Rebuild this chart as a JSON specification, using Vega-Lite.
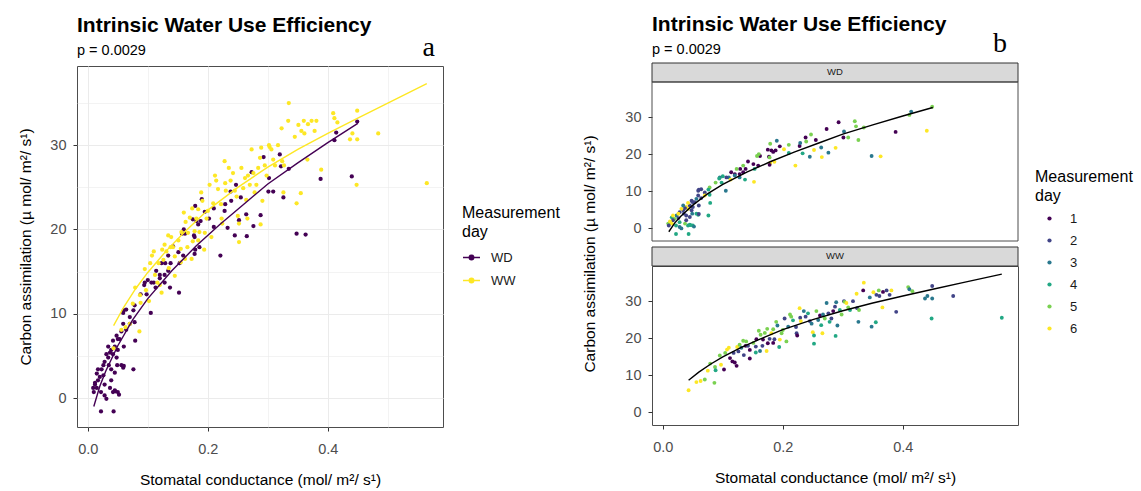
{
"$schema": "https://vega.github.io/schema/vega-lite/v6.json",
"background": "white",
"padding": {"left": 18, "top": 14, "right": 5, "bottom": 0},
"config": {
  "font": "Liberation Sans",
  "view": {"stroke": "#4d4d4d", "strokeWidth": 1},
  "axis": {"gridColor": "#ebebeb", "labelColor": "#4d4d4d", "labelFontSize": 14.5, "titleFontSize": 15.5, "titleFontWeight": "normal", "titleColor": "#000000", "tickColor": "#333333", "tickSize": 4, "domain": false},
  "axisX": {"labelPadding": 11},
  "axisY": {"labelPadding": 7},
  "title": {"fontSize": 21, "fontWeight": "bold", "anchor": "start", "frame": "group", "color": "#000000", "subtitleFontSize": 14.5, "subtitleColor": "#000000", "subtitlePadding": 8},
  "legend": {"titleFontSize": 16, "titleFontWeight": "normal", "titleColor": "#000000", "labelFontSize": 13, "labelColor": "#1a1a1a", "titleLineHeight": 19, "titlePadding": 8}
},
"datasets": {
  "pts": [
{"t":"WD","d":5,"g":0.449,"a":32.8},{"t":"WD","d":3,"g":0.414,"a":31.5},{"t":"WD","d":5,"g":0.411,"a":30.6},{"t":"WD","d":1,"g":0.388,"a":26.0},{"t":"WD","d":6,"g":0.44,"a":26.3},{"t":"WD","d":3,"g":0.348,"a":19.5},{"t":"WD","d":6,"g":0.363,"a":19.4},{"t":"WD","d":1,"g":0.293,"a":28.6},{"t":"WD","d":5,"g":0.32,"a":28.9},{"t":"WD","d":5,"g":0.322,"a":27.5},{"t":"WD","d":5,"g":0.335,"a":27.2},{"t":"WD","d":1,"g":0.273,"a":26.8},{"t":"WD","d":3,"g":0.302,"a":26.1},{"t":"WD","d":1,"g":0.301,"a":24.5},{"t":"WD","d":5,"g":0.309,"a":24.5},{"t":"WD","d":5,"g":0.326,"a":23.8},{"t":"WD","d":1,"g":0.255,"a":23.8},{"t":"WD","d":1,"g":0.238,"a":24.5},{"t":"WD","d":5,"g":0.247,"a":25.3},{"t":"WD","d":5,"g":0.239,"a":23.4},{"t":"WD","d":3,"g":0.264,"a":21.8},{"t":"WD","d":6,"g":0.288,"a":21.7},{"t":"WD","d":4,"g":0.233,"a":20.2},{"t":"WD","d":3,"g":0.245,"a":19.3},{"t":"WD","d":6,"g":0.252,"a":21.1},{"t":"WD","d":6,"g":0.265,"a":19.2},{"t":"WD","d":3,"g":0.276,"a":20.4},{"t":"WD","d":6,"g":0.221,"a":16.9},{"t":"WD","d":1,"g":0.228,"a":22.2},{"t":"WD","d":3,"g":0.229,"a":23.0},{"t":"WD","d":4,"g":0.21,"a":20.3},{"t":"WD","d":5,"g":0.21,"a":22.5},{"t":"WD","d":6,"g":0.202,"a":21.3},{"t":"WD","d":3,"g":0.19,"a":23.6},{"t":"WD","d":5,"g":0.179,"a":22.8},{"t":"WD","d":1,"g":0.195,"a":22.1},{"t":"WD","d":1,"g":0.188,"a":21.0},{"t":"WD","d":1,"g":0.184,"a":20.6},{"t":"WD","d":1,"g":0.181,"a":21.0},{"t":"WD","d":1,"g":0.175,"a":21.2},{"t":"WD","d":1,"g":0.162,"a":19.5},{"t":"WD","d":1,"g":0.177,"a":19.3},{"t":"WD","d":5,"g":0.178,"a":19.1},{"t":"WD","d":5,"g":0.157,"a":19.5},{"t":"WD","d":5,"g":0.16,"a":20.0},{"t":"WD","d":6,"g":0.179,"a":17.6},{"t":"WD","d":6,"g":0.186,"a":17.9},{"t":"WD","d":1,"g":0.178,"a":17.1},{"t":"WD","d":1,"g":0.142,"a":18.0},{"t":"WD","d":1,"g":0.151,"a":17.3},{"t":"WD","d":1,"g":0.159,"a":16.9},{"t":"WD","d":4,"g":0.153,"a":16.0},{"t":"WD","d":5,"g":0.134,"a":16.9},{"t":"WD","d":1,"g":0.129,"a":16.0},{"t":"WD","d":5,"g":0.123,"a":16.0},{"t":"WD","d":1,"g":0.114,"a":15.1},{"t":"WD","d":1,"g":0.12,"a":14.6},{"t":"WD","d":1,"g":0.128,"a":14.6},{"t":"WD","d":1,"g":0.134,"a":15.1},{"t":"WD","d":1,"g":0.138,"a":16.0},{"t":"WD","d":6,"g":0.152,"a":12.5},{"t":"WD","d":4,"g":0.137,"a":13.1},{"t":"WD","d":3,"g":0.128,"a":13.7},{"t":"WD","d":3,"g":0.12,"a":14.2},{"t":"WD","d":3,"g":0.11,"a":13.7},{"t":"WD","d":2,"g":0.106,"a":13.7},{"t":"WD","d":4,"g":0.1,"a":14.0},{"t":"WD","d":3,"g":0.095,"a":13.7},{"t":"WD","d":4,"g":0.094,"a":13.4},{"t":"WD","d":3,"g":0.105,"a":10.1},{"t":"WD","d":5,"g":0.088,"a":12.3},{"t":"WD","d":4,"g":0.098,"a":12.3},{"t":"WD","d":6,"g":0.113,"a":13.1},{"t":"WD","d":5,"g":0.078,"a":11.0},{"t":"WD","d":4,"g":0.076,"a":10.4},{"t":"WD","d":2,"g":0.07,"a":9.6},{"t":"WD","d":2,"g":0.064,"a":10.5},{"t":"WD","d":2,"g":0.06,"a":10.4},{"t":"WD","d":4,"g":0.078,"a":9.0},{"t":"WD","d":4,"g":0.079,"a":6.8},{"t":"WD","d":4,"g":0.076,"a":3.4},{"t":"WD","d":6,"g":0.07,"a":8.8},{"t":"WD","d":2,"g":0.064,"a":8.1},{"t":"WD","d":2,"g":0.059,"a":8.8},{"t":"WD","d":3,"g":0.056,"a":7.9},{"t":"WD","d":2,"g":0.053,"a":7.0},{"t":"WD","d":2,"g":0.06,"a":6.1},{"t":"WD","d":2,"g":0.05,"a":5.7},{"t":"WD","d":2,"g":0.045,"a":6.1},{"t":"WD","d":2,"g":0.048,"a":4.8},{"t":"WD","d":4,"g":0.056,"a":3.9},{"t":"WD","d":4,"g":0.059,"a":3.6},{"t":"WD","d":3,"g":0.049,"a":3.9},{"t":"WD","d":6,"g":0.042,"a":5.2},{"t":"WD","d":6,"g":0.039,"a":5.7},{"t":"WD","d":2,"g":0.037,"a":5.4},{"t":"WD","d":2,"g":0.034,"a":4.8},{"t":"WD","d":6,"g":0.031,"a":5.2},{"t":"WD","d":2,"g":0.028,"a":4.3},{"t":"WD","d":2,"g":0.035,"a":3.9},{"t":"WD","d":2,"g":0.039,"a":3.4},{"t":"WD","d":3,"g":0.023,"a":3.4},{"t":"WD","d":2,"g":0.026,"a":2.7},{"t":"WD","d":5,"g":0.02,"a":2.5},{"t":"WD","d":4,"g":0.015,"a":2.9},{"t":"WD","d":2,"g":0.017,"a":2.1},{"t":"WD","d":5,"g":0.012,"a":1.6},{"t":"WD","d":5,"g":0.009,"a":1.2},{"t":"WD","d":6,"g":0.015,"a":1.2},{"t":"WD","d":2,"g":0.01,"a":0.7},{"t":"WD","d":4,"g":0.028,"a":1.6},{"t":"WD","d":4,"g":0.022,"a":0.7},{"t":"WD","d":3,"g":0.028,"a":0.3},{"t":"WD","d":4,"g":0.042,"a":0.7},{"t":"WD","d":4,"g":0.045,"a":0.9},{"t":"WD","d":4,"g":0.05,"a":0.7},{"t":"WD","d":4,"g":0.022,"a":-1.6},{"t":"WD","d":4,"g":0.043,"a":-1.6},{"t":"WD","d":3,"g":0.031,"a":-0.1},{"t":"WD","d":5,"g":0.037,"a":1.2},{"t":"WD","d":2,"g":0.039,"a":2.1},{"t":"WD","d":2,"g":0.045,"a":3.0},{"t":"WD","d":6,"g":0.026,"a":3.9},{"t":"WD","d":6,"g":0.017,"a":3.4},{"t":"WD","d":6,"g":0.012,"a":1.8},{"t":"WD","d":2,"g":0.05,"a":7.0},{"t":"WD","d":6,"g":0.042,"a":6.8},{"t":"WD","d":2,"g":0.048,"a":7.4},{"t":"WD","d":3,"g":0.034,"a":6.1},{"t":"WD","d":2,"g":0.059,"a":10.1},{"t":"WD","d":2,"g":0.06,"a":3.8},{"t":"WD","d":4,"g":0.046,"a":0.8},{"t":"WD","d":3,"g":0.052,"a":0.4},
{"t":"WW","d":6,"g":0.043,"a":5.9},{"t":"WW","d":6,"g":0.056,"a":8.1},{"t":"WW","d":6,"g":0.063,"a":8.4},{"t":"WW","d":5,"g":0.07,"a":8.8},{"t":"WW","d":5,"g":0.086,"a":7.9},{"t":"WW","d":6,"g":0.075,"a":11.2},{"t":"WW","d":5,"g":0.079,"a":13.1},{"t":"WW","d":5,"g":0.087,"a":12.2},{"t":"WW","d":4,"g":0.088,"a":11.3},{"t":"WW","d":6,"g":0.097,"a":12.8},{"t":"WW","d":5,"g":0.095,"a":15.3},{"t":"WW","d":1,"g":0.102,"a":11.5},{"t":"WW","d":6,"g":0.107,"a":16.9},{"t":"WW","d":6,"g":0.11,"a":17.4},{"t":"WW","d":5,"g":0.104,"a":16.0},{"t":"WW","d":1,"g":0.112,"a":14.6},{"t":"WW","d":1,"g":0.116,"a":13.7},{"t":"WW","d":1,"g":0.12,"a":13.4},{"t":"WW","d":1,"g":0.123,"a":12.5},{"t":"WW","d":2,"g":0.118,"a":16.0},{"t":"WW","d":6,"g":0.124,"a":17.6},{"t":"WW","d":5,"g":0.128,"a":18.2},{"t":"WW","d":3,"g":0.131,"a":17.4},{"t":"WW","d":2,"g":0.126,"a":16.4},{"t":"WW","d":5,"g":0.134,"a":19.3},{"t":"WW","d":5,"g":0.139,"a":19.1},{"t":"WW","d":1,"g":0.138,"a":17.9},{"t":"WW","d":2,"g":0.142,"a":17.9},{"t":"WW","d":2,"g":0.135,"a":15.4},{"t":"WW","d":1,"g":0.145,"a":14.5},{"t":"WW","d":1,"g":0.145,"a":16.8},{"t":"WW","d":5,"g":0.151,"a":18.7},{"t":"WW","d":2,"g":0.155,"a":17.7},{"t":"WW","d":1,"g":0.156,"a":19.7},{"t":"WW","d":5,"g":0.16,"a":22.0},{"t":"WW","d":5,"g":0.163,"a":20.9},{"t":"WW","d":2,"g":0.166,"a":17.9},{"t":"WW","d":1,"g":0.167,"a":19.6},{"t":"WW","d":4,"g":0.155,"a":16.1},{"t":"WW","d":3,"g":0.162,"a":16.5},{"t":"WW","d":5,"g":0.17,"a":21.4},{"t":"WW","d":5,"g":0.174,"a":22.5},{"t":"WW","d":6,"g":0.173,"a":16.5},{"t":"WW","d":1,"g":0.175,"a":18.6},{"t":"WW","d":2,"g":0.178,"a":19.8},{"t":"WW","d":6,"g":0.181,"a":21.3},{"t":"WW","d":5,"g":0.184,"a":22.4},{"t":"WW","d":1,"g":0.184,"a":18.7},{"t":"WW","d":2,"g":0.186,"a":19.7},{"t":"WW","d":5,"g":0.189,"a":24.4},{"t":"WW","d":3,"g":0.191,"a":23.4},{"t":"WW","d":4,"g":0.194,"a":17.6},{"t":"WW","d":6,"g":0.195,"a":19.6},{"t":"WW","d":5,"g":0.198,"a":21.3},{"t":"WW","d":5,"g":0.2,"a":22.2},{"t":"WW","d":2,"g":0.203,"a":25.3},{"t":"WW","d":5,"g":0.206,"a":19.1},{"t":"WW","d":3,"g":0.209,"a":23.1},{"t":"WW","d":5,"g":0.212,"a":26.4},{"t":"WW","d":5,"g":0.214,"a":25.8},{"t":"WW","d":4,"g":0.217,"a":24.8},{"t":"WW","d":2,"g":0.222,"a":23.0},{"t":"WW","d":2,"g":0.223,"a":21.3},{"t":"WW","d":1,"g":0.224,"a":20.7},{"t":"WW","d":6,"g":0.228,"a":28.1},{"t":"WW","d":2,"g":0.229,"a":25.5},{"t":"WW","d":6,"g":0.23,"a":24.6},{"t":"WW","d":3,"g":0.235,"a":27.3},{"t":"WW","d":2,"g":0.238,"a":25.8},{"t":"WW","d":4,"g":0.242,"a":26.7},{"t":"WW","d":2,"g":0.245,"a":24.6},{"t":"WW","d":3,"g":0.248,"a":23.9},{"t":"WW","d":6,"g":0.25,"a":21.6},{"t":"WW","d":4,"g":0.252,"a":20.7},{"t":"WW","d":5,"g":0.256,"a":27.3},{"t":"WW","d":3,"g":0.259,"a":24.9},{"t":"WW","d":1,"g":0.262,"a":26.1},{"t":"WW","d":4,"g":0.264,"a":23.5},{"t":"WW","d":6,"g":0.266,"a":21.3},{"t":"WW","d":3,"g":0.267,"a":26.4},{"t":"WW","d":5,"g":0.27,"a":25.3},{"t":"WW","d":3,"g":0.273,"a":29.5},{"t":"WW","d":2,"g":0.276,"a":26.7},{"t":"WW","d":4,"g":0.278,"a":24.4},{"t":"WW","d":2,"g":0.281,"a":25.3},{"t":"WW","d":1,"g":0.284,"a":27.3},{"t":"WW","d":2,"g":0.287,"a":28.5},{"t":"WW","d":3,"g":0.289,"a":29.7},{"t":"WW","d":3,"g":0.291,"a":23.4},{"t":"WW","d":4,"g":0.288,"a":20.6},{"t":"WW","d":4,"g":0.252,"a":18.5},{"t":"WW","d":4,"g":0.295,"a":27.6},{"t":"WW","d":5,"g":0.298,"a":26.4},{"t":"WW","d":2,"g":0.302,"a":30.0},{"t":"WW","d":5,"g":0.303,"a":29.8},{"t":"WW","d":6,"g":0.306,"a":29.5},{"t":"WW","d":5,"g":0.309,"a":28.3},{"t":"WW","d":4,"g":0.312,"a":27.6},{"t":"WW","d":2,"g":0.317,"a":30.0},{"t":"WW","d":6,"g":0.323,"a":32.0},{"t":"WW","d":2,"g":0.324,"a":28.1},{"t":"WW","d":3,"g":0.326,"a":24.4},{"t":"WW","d":5,"g":0.327,"a":27.6},{"t":"WW","d":1,"g":0.334,"a":32.9},{"t":"WW","d":6,"g":0.335,"a":35.0},{"t":"WW","d":3,"g":0.345,"a":31.0},{"t":"WW","d":3,"g":0.348,"a":23.1},{"t":"WW","d":6,"g":0.351,"a":32.4},{"t":"WW","d":4,"g":0.355,"a":24.3},{"t":"WW","d":2,"g":0.356,"a":31.7},{"t":"WW","d":5,"g":0.36,"a":32.9},{"t":"WW","d":2,"g":0.361,"a":31.4},{"t":"WW","d":6,"g":0.366,"a":28.3},{"t":"WW","d":1,"g":0.367,"a":32.5},{"t":"WW","d":2,"g":0.373,"a":32.9},{"t":"WW","d":2,"g":0.378,"a":31.7},{"t":"WW","d":6,"g":0.381,"a":32.9},{"t":"WW","d":2,"g":0.389,"a":27.1},{"t":"WW","d":5,"g":0.409,"a":33.8},{"t":"WW","d":3,"g":0.411,"a":33.2},{"t":"WW","d":5,"g":0.416,"a":32.7},{"t":"WW","d":3,"g":0.437,"a":30.7},{"t":"WW","d":3,"g":0.441,"a":31.4},{"t":"WW","d":2,"g":0.449,"a":34.1},{"t":"WW","d":3,"g":0.449,"a":30.7},{"t":"WW","d":4,"g":0.448,"a":25.3},{"t":"WW","d":2,"g":0.484,"a":31.4},{"t":"WW","d":4,"g":0.565,"a":25.5}
  ],
  "fit": [
{"t":"WD","g":0.01,"a":-1.0},{"t":"WD","g":0.02,"a":1.4},{"t":"WD","g":0.03,"a":3.2},{"t":"WD","g":0.05,"a":6.2},{"t":"WD","g":0.075,"a":9.3},{"t":"WD","g":0.1,"a":11.8},{"t":"WD","g":0.14,"a":15.1},{"t":"WD","g":0.18,"a":18.0},{"t":"WD","g":0.22,"a":20.6},{"t":"WD","g":0.26,"a":23.0},{"t":"WD","g":0.3,"a":25.4},{"t":"WD","g":0.35,"a":27.9},{"t":"WD","g":0.4,"a":30.3},{"t":"WD","g":0.45,"a":32.6},
{"t":"WW","g":0.043,"a":8.6},{"t":"WW","g":0.06,"a":10.8},{"t":"WW","g":0.08,"a":13.0},{"t":"WW","g":0.1,"a":14.9},{"t":"WW","g":0.13,"a":17.4},{"t":"WW","g":0.16,"a":19.6},{"t":"WW","g":0.2,"a":22.3},{"t":"WW","g":0.25,"a":25.0},{"t":"WW","g":0.3,"a":27.4},{"t":"WW","g":0.35,"a":29.5},{"t":"WW","g":0.4,"a":31.4},{"t":"WW","g":0.45,"a":33.2},{"t":"WW","g":0.5,"a":35.0},{"t":"WW","g":0.565,"a":37.3}
  ]
},
"resolve": {"scale": {"color": "independent"}, "legend": {"color": "independent"}},
"spacing": 21,
"hconcat": [
  {
    "title": {"text": "Intrinsic Water Use Efficiency", "subtitle": "p = 0.0029", "offset": -23},
    "width": 366,
    "height": 361,
    "layer": [
      {
        "data": {"name": "pts"},
        "mark": {"type": "circle", "size": 18, "opacity": 1},
        "encoding": {
          "x": {"field": "g", "type": "quantitative", "scale": {"domain": [-0.018, 0.592], "nice": false, "zero": false},
            "axis": {"values": [0, 0.1, 0.2, 0.3, 0.4, 0.5], "labelExpr": "round(datum.value*10)%2===0 ? format(datum.value,'.1f') : ''", "tickOpacity": {"condition": {"test": "round(datum.value*10)%2!==0", "value": 0}, "value": 1}, "gridWidth": {"condition": {"test": "round(datum.value*10)%2!==0", "value": 0.6}, "value": 1}, "title": "Stomatal conductance  (mol/ m²/ s¹)", "titlePadding": 17}},
          "y": {"field": "a", "type": "quantitative", "scale": {"domain": [-3.44, 39.4], "nice": false, "zero": false},
            "axis": {"values": [0, 5, 10, 15, 20, 25, 30, 35], "labelExpr": "datum.value%10===0 ? datum.value : ''", "tickOpacity": {"condition": {"test": "datum.value%10!==0", "value": 0}, "value": 1}, "gridWidth": {"condition": {"test": "datum.value%10!==0", "value": 0.6}, "value": 1}, "title": "Carbon assimilation (µ mol/ m²/ s¹)", "titlePadding": 16}},
          "color": {"field": "t", "type": "nominal", "scale": {"domain": ["WD", "WW"], "range": ["#440154", "#FDE725"]},
            "legend": {"title": ["Measurement", "day"], "orient": "none", "legendX": 385, "legendY": 139, "symbolType": "M-1,0L1,0M-0.26,0A0.26,0.26,0,1,1,0.26,0A0.26,0.26,0,1,1,-0.26,0Z", "symbolSize": 289, "symbolStrokeWidth": 1.5, "labelOffset": 10, "rowPadding": 6}}
        }
      },
      {
        "data": {"name": "fit"},
        "mark": {"type": "line", "strokeWidth": 1.4},
        "encoding": {
          "x": {"field": "g", "type": "quantitative"},
          "y": {"field": "a", "type": "quantitative"},
          "color": {"field": "t", "type": "nominal"}
        }
      },
      {
        "data": {"values": [{"lab": "a"}]},
        "mark": {"type": "text", "font": "Liberation Serif", "fontSize": 28, "color": "#000000", "baseline": "middle"},
        "encoding": {"text": {"field": "lab"}, "x": {"datum": 0.568}, "y": {"datum": 41.5}}
      }
    ]
  },
  {
    "bounds": "flush",
    "spacing": 25,
    "vconcat": [
      {
        "title": {"text": "Intrinsic Water Use Efficiency", "subtitle": "p = 0.0029", "offset": -27},
        "width": 366, "height": 175,
        "view": {"stroke": null},
        "layer": [
          {
            "data": {"values": [{"p": "WD"}]},
            "mark": {"type": "rect", "fill": "#d9d9d9", "stroke": "#333333", "strokeWidth": 1},
            "encoding": {"x": {"datum": -0.018}, "x2": {"datum": 0.592}, "y": {"datum": 39.5}, "y2": {"datum": 44.638}}
          },
          {
            "data": {"values": [{"p": "WD"}]},
            "mark": {"type": "text", "fontSize": 9.5, "color": "#1a1a1a", "baseline": "middle"},
            "encoding": {"text": {"field": "p"}, "x": {"datum": 0.287}, "y": {"datum": 42.07}}
          },
          {
            "data": {"values": [{"p": "WD"}]},
            "mark": {"type": "rect", "filled": false, "stroke": "#4d4d4d", "strokeWidth": 1},
            "encoding": {"x": {"datum": -0.018}, "x2": {"datum": 0.592}, "y": {"datum": -3.5}, "y2": {"datum": 39.5}}
          },
          {
            "data": {"name": "pts"},
            "transform": [{"filter": "datum.t === 'WD'"}],
            "mark": {"type": "circle", "size": 15, "opacity": 1},
            "encoding": {
              "x": {"field": "g", "type": "quantitative", "scale": {"domain": [-0.018, 0.592], "nice": false, "zero": false},
                "axis": {"values": [0, 0.1, 0.2, 0.3, 0.4, 0.5], "labels": false, "ticks": false, "title": null, "gridWidth": {"condition": {"test": "round(datum.value*10)%2!==0", "value": 0.6}, "value": 1}}},
              "y": {"field": "a", "type": "quantitative", "scale": {"domain": [-3.5, 43.827], "nice": false, "zero": false},
                "axis": {"values": [0, 5, 10, 15, 20, 25, 30, 35], "labelExpr": "datum.value%10===0 ? datum.value : ''", "tickOpacity": {"condition": {"test": "datum.value%10!==0", "value": 0}, "value": 1}, "gridWidth": {"condition": {"test": "datum.value%10!==0", "value": 0.6}, "value": 1}, "title": "Carbon assimilation (µ mol/ m²/ s¹)", "titleY": 187.5, "titlePadding": 27}},
              "color": {"field": "d", "type": "nominal", "scale": {"domain": [1, 2, 3, 4, 5, 6], "range": ["#440154", "#414487", "#2A788E", "#22A884", "#7AD151", "#FDE725"]},
                "legend": {"title": ["Measurement", "day"], "orient": "none", "legendX": 383, "legendY": 103, "symbolType": "circle", "symbolSize": 18, "symbolOffset": 8, "labelOffset": 14, "rowPadding": 8}}
            }
          },
          {
            "data": {"name": "fit"},
            "transform": [{"filter": "datum.t === 'WD'"}],
            "mark": {"type": "line", "color": "#000000", "strokeWidth": 1.4},
            "encoding": {"x": {"field": "g", "type": "quantitative"}, "y": {"field": "a", "type": "quantitative"}}
          },
          {
            "data": {"values": [{"lab": "b"}]},
            "mark": {"type": "text", "font": "Liberation Serif", "fontSize": 28, "color": "#000000", "baseline": "middle"},
            "encoding": {"text": {"field": "lab"}, "x": {"datum": 0.562}, "y": {"datum": 49.78}}
          }
        ]
      },
      {
        "width": 366, "height": 159,
        "layer": [
          {
            "data": {"values": [{"p": "WW"}]},
            "mark": {"type": "rect", "fill": "#d9d9d9", "stroke": "#333333", "strokeWidth": 1},
            "encoding": {"x": {"datum": -0.018}, "x2": {"datum": 0.592}, "y": {"datum": 39.5}, "y2": {"datum": 44.638}}
          },
          {
            "data": {"values": [{"p": "WW"}]},
            "mark": {"type": "text", "fontSize": 9.5, "color": "#1a1a1a", "baseline": "middle"},
            "encoding": {"text": {"field": "p"}, "x": {"datum": 0.287}, "y": {"datum": 42.07}}
          },
          {
            "data": {"name": "pts"},
            "transform": [{"filter": "datum.t === 'WW'"}],
            "mark": {"type": "circle", "size": 15, "opacity": 1},
            "encoding": {
              "x": {"field": "g", "type": "quantitative", "scale": {"domain": [-0.018, 0.592], "nice": false, "zero": false},
                "axis": {"values": [0, 0.1, 0.2, 0.3, 0.4, 0.5], "labelExpr": "round(datum.value*10)%2===0 ? format(datum.value,'.1f') : ''", "tickOpacity": {"condition": {"test": "round(datum.value*10)%2!==0", "value": 0}, "value": 1}, "gridWidth": {"condition": {"test": "round(datum.value*10)%2!==0", "value": 0.6}, "value": 1}, "title": "Stomatal conductance  (mol/ m²/ s¹)", "titlePadding": 17}},
              "y": {"field": "a", "type": "quantitative", "scale": {"domain": [-3.5, 39.5], "nice": false, "zero": false},
                "axis": {"values": [0, 5, 10, 15, 20, 25, 30, 35], "labelExpr": "datum.value%10===0 ? datum.value : ''", "tickOpacity": {"condition": {"test": "datum.value%10!==0", "value": 0}, "value": 1}, "gridWidth": {"condition": {"test": "datum.value%10!==0", "value": 0.6}, "value": 1}, "title": null}},
              "color": {"field": "d", "type": "nominal"}
            }
          },
          {
            "data": {"name": "fit"},
            "transform": [{"filter": "datum.t === 'WW'"}],
            "mark": {"type": "line", "color": "#000000", "strokeWidth": 1.4},
            "encoding": {"x": {"field": "g", "type": "quantitative"}, "y": {"field": "a", "type": "quantitative"}}
          }
        ]
      }
    ]
  }
]
}
